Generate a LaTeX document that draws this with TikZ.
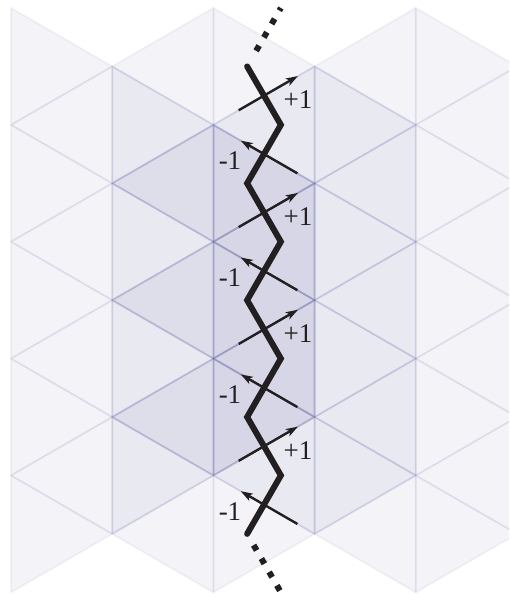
\documentclass[tikz,border=0pt]{standalone}
\usepackage{fontspec}
\setmainfont{Liberation Serif}
\usetikzlibrary{calc,arrows.meta}
\definecolor{latc}{rgb}{0.3,0.3,0.58}
\definecolor{ink}{RGB}{35,31,32}
\begin{document}
\begin{tikzpicture}[x=1pt,y=-1pt,
  lat/.style={draw=latc,fill=latc,line width=1.8pt,line join=round},
  zig/.style={draw=ink,line width=6pt,line join=miter,line cap=round},
  zigdot/.style={draw=ink,line width=6pt,line cap=butt,dash pattern=on 6pt off 9.5pt},
  flux/.style={draw=ink,line width=2.4pt,-{Stealth[length=12pt,width=8pt,inset=3pt]}},
  lab/.style={inner sep=0pt,text=ink,font=\fontsize{27}{32}\selectfont}]
\useasboundingbox (0,0) rectangle (509,594);
% lattice vertices
\foreach \c in {0,...,5}{\foreach \j in {0,...,10}{
  \coordinate (v\c-\j) at ({11+101.2*\c},{8+58.43*\j});}}
\begin{scope}
\clip (0,0) rectangle (509,594);
% right-pointing triangles: vertical edge on column c
\foreach \c/\j/\o in {0/0/0.067,0/2/0.067,0/4/0.067,0/6/0.067,0/8/0.067,
  1/1/0.123,1/3/0.123,1/5/0.123,1/7/0.123,
  2/0/0.067,2/2/0.23,2/4/0.23,2/6/0.23,2/8/0.067,
  3/1/0.123,3/3/0.123,3/5/0.123,3/7/0.123,
  4/0/0.067,4/2/0.067,4/4/0.067,4/6/0.067,4/8/0.067}{
  \pgfmathtruncatemacro\cc{\c+1}\pgfmathtruncatemacro\jm{\j+1}\pgfmathtruncatemacro\jj{\j+2}
  \filldraw[lat,fill opacity=\o,draw opacity=\o] (v\c-\j) -- (v\c-\jj) -- (v\cc-\jm) -- cycle;}
% left-pointing triangles: vertical edge on column c+1
\foreach \c/\j/\o in {0/1/0.067,0/3/0.067,0/5/0.067,0/7/0.067,
  1/0/0.067,1/2/0.184,1/4/0.184,1/6/0.184,1/8/0.067,
  2/1/0.123,2/3/0.23,2/5/0.23,2/7/0.123,
  3/0/0.067,3/2/0.123,3/4/0.123,3/6/0.123,3/8/0.067,
  4/1/0.067,4/3/0.067,4/5/0.067,4/7/0.067}{
  \pgfmathtruncatemacro\cc{\c+1}\pgfmathtruncatemacro\jm{\j+1}\pgfmathtruncatemacro\jj{\j+2}
  \filldraw[lat,fill opacity=\o,draw opacity=\o] (v\cc-\j) -- (v\cc-\jj) -- (v\c-\jm) -- cycle;}
\end{scope}
% centroids of the middle strip
\foreach \k in {0,...,8}{
  \pgfmathsetmacro\px{isodd(\k) ? 213.4+2*101.2/3 : 213.4+101.2/3}
  \coordinate (p\k) at (\px,{8+58.43*(\k+1)});}
\coordinate (ptop) at ({213.4+2*101.2/3},8);
\coordinate (pbot) at ({213.4+2*101.2/3},{8+58.43*10});
% crossing arrows and labels
\foreach \k in {0,...,7}{
  \pgfmathtruncatemacro\a{\k+1}\pgfmathtruncatemacro\b{\k+2}
  \ifodd\k
    \draw[flux] ($(v2-\a)!0.83!(v3-\b)$) -- ($(v2-\a)!0.27!(v3-\b)$);
    \node[lab] (m\k) at ($(v2-\a)!0.5!(v3-\b)+(-34,6.5)$) {-1};
  \else
    \draw[flux] ($(v2-\b)!0.25!(v3-\a)$) -- ($(v2-\b)!0.835!(v3-\a)$);
    \node[lab] (m\k) at ($(v2-\b)!0.5!(v3-\a)+(34,4)$) {+1};
  \fi}
% zigzag path
\draw[zig] (p0) -- (p1) -- (p2) -- (p3) -- (p4) -- (p5) -- (p6) -- (p7) -- (p8);
\draw[zigdot] ($(p0)!18pt!(ptop)$) -- (ptop);
\draw[zigdot] ($(p8)!13pt!(pbot)$) -- (pbot);
\end{tikzpicture}
\end{document}
